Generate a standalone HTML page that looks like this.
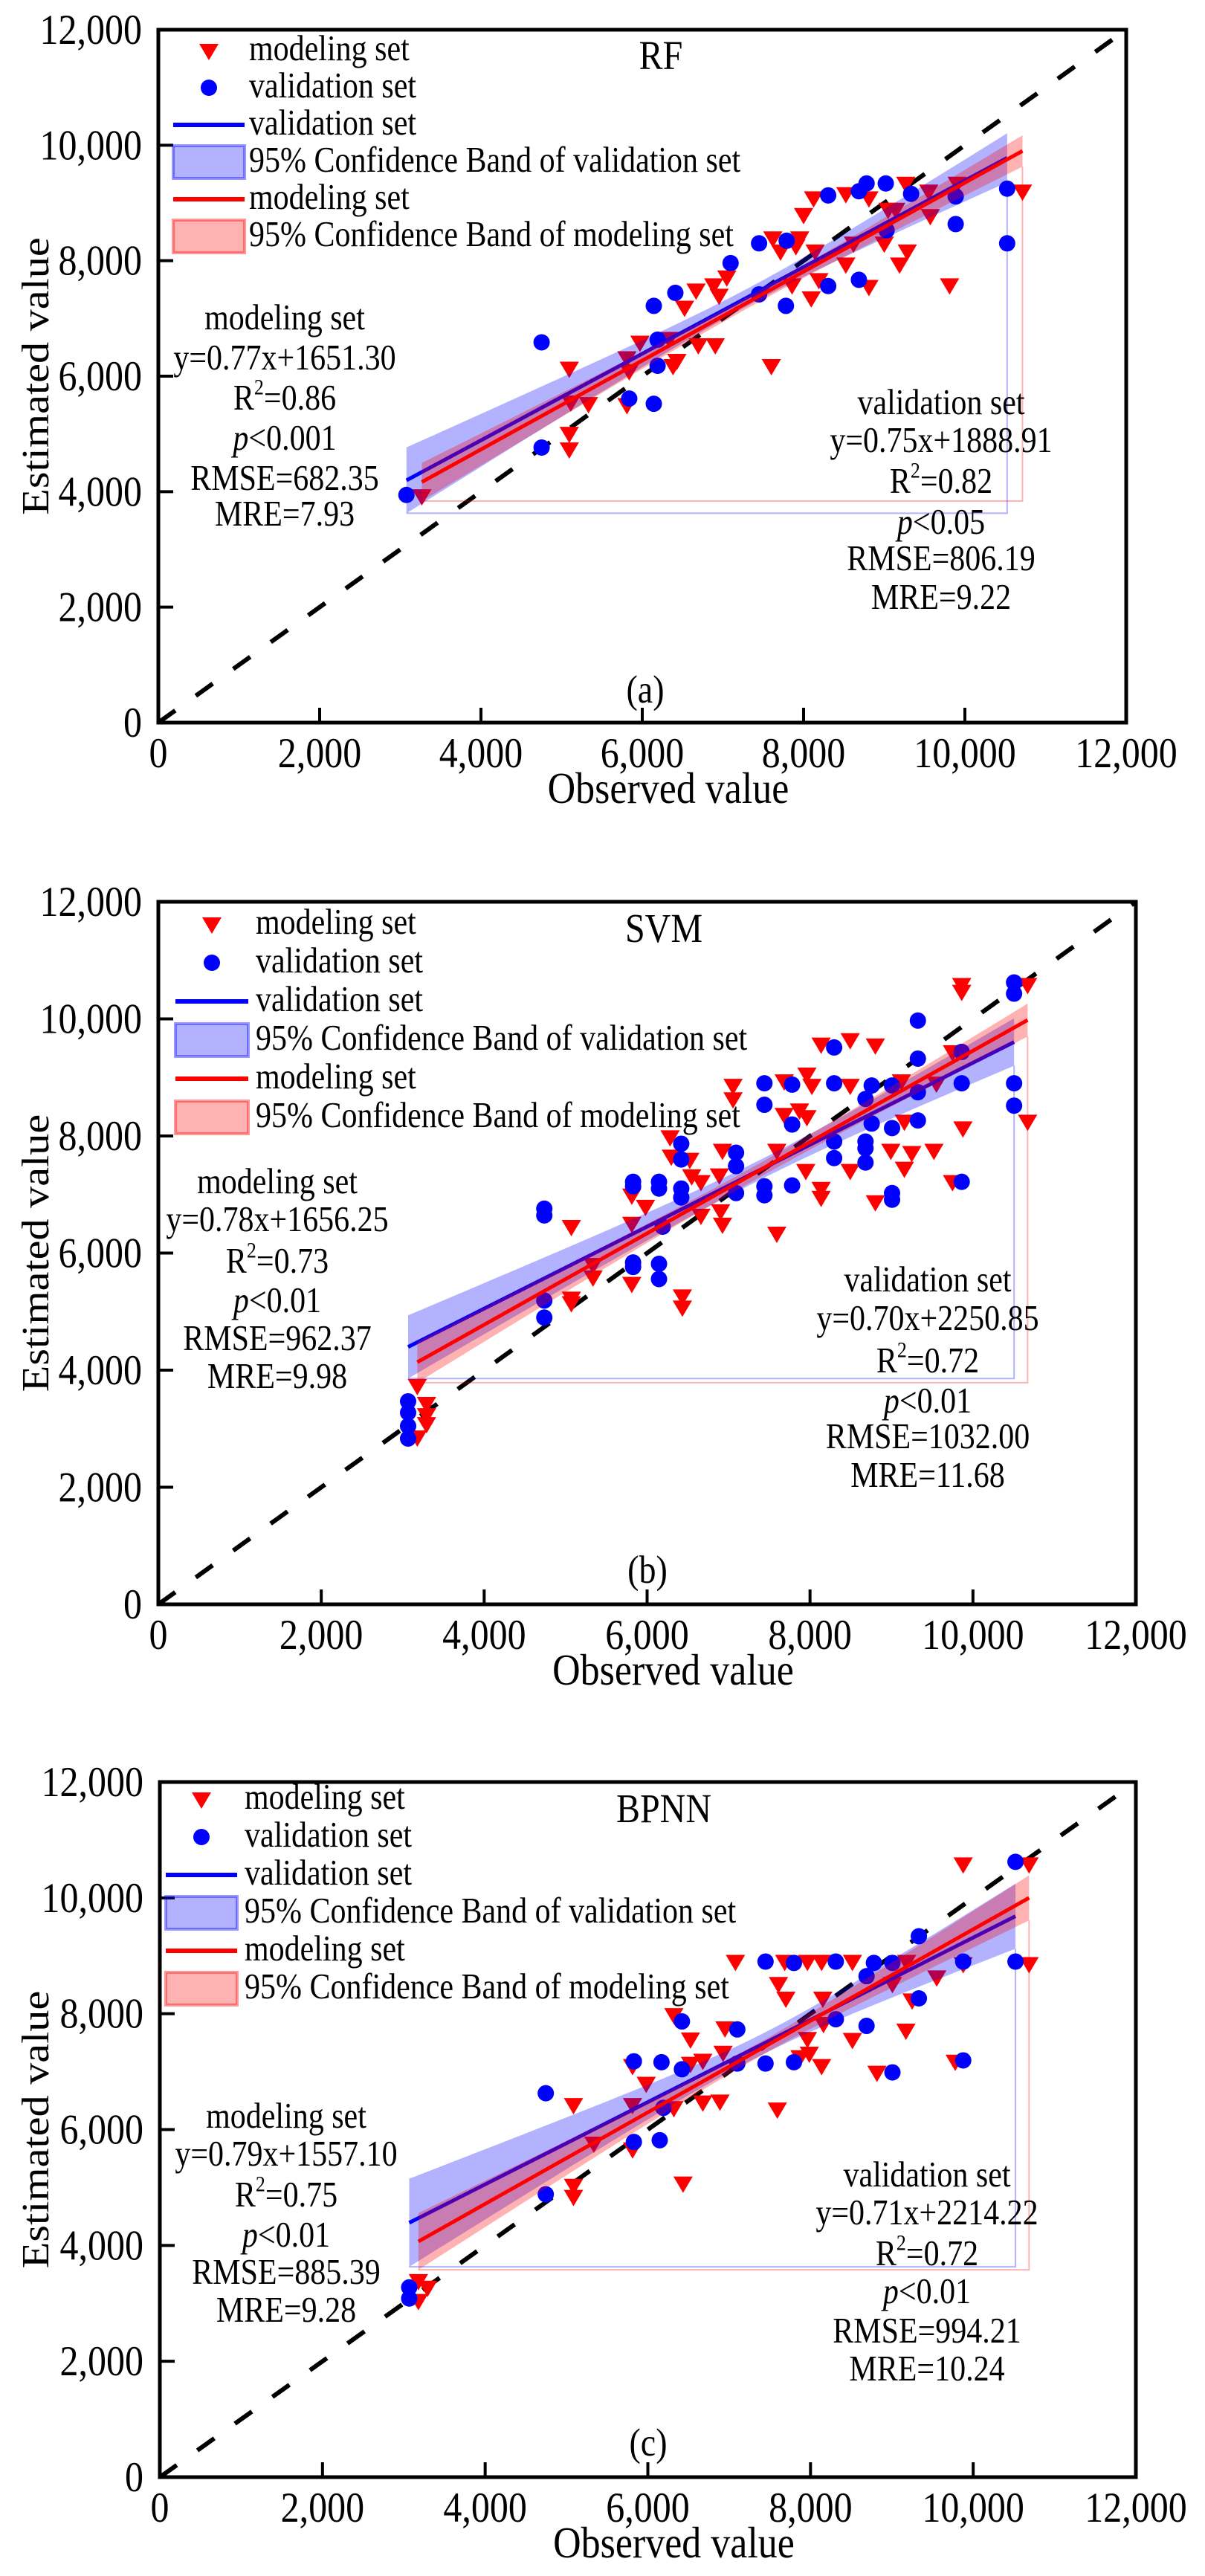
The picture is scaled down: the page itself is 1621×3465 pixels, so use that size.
<!DOCTYPE html>
<html><head><meta charset="utf-8">
<style>
html,body{margin:0;padding:0;background:#fff;}
svg text{font-family:"Liberation Serif","Times New Roman",serif;fill:#000;}
</style></head>
<body>
<svg id="fig" width="1621" height="3460" viewBox="0 0 1621 3460" xmlns="http://www.w3.org/2000/svg"></svg>
<script>
// ---------- data ----------
const xTicks = [0,2000,4000,6000,8000,10000,12000];
const yTicks = [0,2000,4000,6000,8000,10000,12000];
const tickLabels = ["0","2,000","4,000","6,000","8,000","10,000","12,000"];
const panelTitles = ["RF","SVM","BPNN"];
const panelLetters = ["(a)","(b)","(c)"];

const rfValX = [3076,4752,4752,5838,6143,6143,6190,6190,6410,7095,7448,7448,7781,7790,8305,8305,8686,8686,8781,9019,9029,9333,9886,9886,10524,10524];
const rfValY = [3943,6586,4764,5612,7218,5522,6632,6180,7443,7958,8301,7417,7218,8346,9131,7561,7669,9203,9338,9338,8526,9158,8634,9113,9248,8301];
const rfModX = [3267,5095,5095,5095,5114,5333,5810,5810,5838,5971,6333,6381,6429,6524,6667,6695,6886,6905,6952,7048,7600,7619,7714,7857,7905,7952,8000,8095,8124,8143,8190,8524,8524,8619,8810,8810,9000,9048,9143,9190,9267,9286,9552,9571,9810,9905,10714];
const rfModY = [3925,6135,5007,4737,5549,5522,6316,5504,6090,6586,6650,6180,6270,7191,7489,6541,7579,6541,7399,7715,6180,8391,8165,7579,8256,8391,8797,7354,9086,8165,7669,7940,9158,8301,7552,9086,8301,8887,8887,7940,9338,8165,9203,8778,7579,9338,9203];

const svmValX = [3066,3066,3066,3066,4738,4738,4738,4738,5828,5828,5828,5828,6146,6146,6146,6146,6191,6419,6419,6419,6419,7092,7092,7092,7440,7440,7440,7440,7780,7780,7780,8296,8296,8296,8296,8681,8681,8681,8681,8757,8757,9007,9007,9007,9007,9324,9324,9324,9324,9862,9862,9862,10505,10505,10505,10505];
const svmValY = [3467,3275,3046,2832,6758,6643,5189,4898,7217,7140,5839,5763,7217,7102,5816,5556,6451,7867,7599,7102,6949,7714,7485,7025,8900,8533,7140,6987,8877,8196,7155,9512,8900,7905,7622,8632,7905,7790,7546,8862,8212,8862,8135,7025,6911,9971,9321,8747,8265,8900,7217,9436,10622,10431,8900,8518];
const svmModX = [3179,3179,3292,3292,3292,5070,5070,5070,5336,5336,5812,5812,5812,5980,6433,6433,6282,6297,6524,6547,6661,6661,6887,6902,6925,6925,7055,7055,7592,7592,7683,7683,7871,7962,7962,7948,8023,8136,8136,8136,8493,8493,8493,8802,8802,8992,9121,9158,9249,9158,9521,9552,9749,9749,9862,9862,9877,10671,10671];
const svmModY = [3735,2855,3429,3237,3084,6451,5227,5150,5587,5801,6987,6505,5480,6796,5265,5074,7982,7653,7599,7316,7217,6643,7331,6719,6490,7752,8862,8632,6337,7752,8938,8365,8441,9054,8327,7408,8862,7102,6949,9566,9642,8862,7408,9551,6873,7752,8938,8250,7714,7446,7752,8900,9436,7217,10584,10469,8135,10584,8250];

const bpValX = [3066,3066,4745,4745,5828,5828,6146,6168,6191,6419,6419,7100,7100,7447,7447,7796,7796,8311,8311,8689,8689,8779,9007,9007,9332,9332,9877,9877,10520,10520];
const bpValY = [3276,3084,6627,4883,7178,5786,5816,7163,6375,7867,7041,7729,7140,8900,7140,8877,7163,8900,7905,8648,7790,8877,8877,6987,9337,8265,8900,7194,10622,8900];
const bpModX = [3179,3179,3292,5086,5086,5086,5336,5812,5812,5812,5980,6320,6320,6433,6524,6524,6676,6676,6887,6925,6948,7077,7592,7606,7697,7683,7871,7962,7962,7985,8136,8136,8151,8159,8515,8515,8817,9007,9181,9173,9249,9552,9779,9877,9877,10687,10687];
const bpModY = [3390,3046,3276,6428,5035,4844,5763,7102,6428,5663,6796,7982,6375,5074,7561,7140,7194,6474,6490,7331,7752,8900,6352,8518,8265,8900,7255,8900,7569,7316,7102,8900,8265,7829,8900,7553,6987,8518,8900,7714,8235,8632,7178,10584,8862,10584,8862];

const valSlope = [0.75,0.70,0.71];
const valIntercept = [1888.91,2250.85,2214.22];
const modSlope = [0.77,0.78,0.79];
const modIntercept = [1651.30,1656.25,1557.10];

const modStats = [
  ["y=0.77x+1651.30","0.86","<0.001","RMSE=682.35","MRE=7.93"],
  ["y=0.78x+1656.25","0.73","<0.01","RMSE=962.37","MRE=9.98"],
  ["y=0.79x+1557.10","0.75","<0.01","RMSE=885.39","MRE=9.28"]];
const valStats = [
  ["y=0.75x+1888.91","0.82","<0.05","RMSE=806.19","MRE=9.22"],
  ["y=0.70x+2250.85","0.72","<0.01","RMSE=1032.00","MRE=11.68"],
  ["y=0.71x+2214.22","0.72","<0.01","RMSE=994.21","MRE=10.24"]];

// ---------- layout (not data) ----------
const panels = [
  {x0:213,y0:40,w:1302,h:932, leg:{mk:68,tx:122,ty:41,dy:50,ln:[20,116]}, title:[676,53], letter:[655,905],
   mod:{cx:170,ys:[403,457,511,565,619,667]}, val:{cx:1053,ys:[517,568,623,678,727,779]},
   vb:{xm:7400,hmin:150,hend:570}, mb:{xm:7400,hmin:100,hend:330}},
  {x0:213,y0:1213,w:1315,h:945, leg:{mk:72,tx:131,ty:43,dy:52,ln:[23,121]}, title:[680,54], letter:[658,916],
   mod:{cx:160,ys:[392,443,499,552,603,654]}, val:{cx:1035,ys:[524,576,633,687,735,787]},
   vb:{xm:7400,hmin:170,hend:540}, mb:{xm:7400,hmin:120,hend:350}},
  {x0:215,y0:2397,w:1313,h:935, leg:{mk:56,tx:114,ty:36,dy:51,ln:[8,104]}, title:[678,54], letter:[657,906],
   mod:{cx:170,ys:[465,516,571,625,675,726]}, val:{cx:1032,ys:[544,595,650,701,754,805]},
   vb:{xm:7400,hmin:180,hend:760}, mb:{xm:7400,hmin:120,hend:490}}
];
const valX=[rfValX,svmValX,bpValX], valY=[rfValY,svmValY,bpValY];
const modX=[rfModX,svmModX,bpModX], modY=[rfModY,svmModY,bpModY];

const NS="http://www.w3.org/2000/svg";
const svg=document.getElementById('fig');
function mk(tag,attrs,parent){const e=document.createElementNS(NS,tag);for(const k in attrs)e.setAttribute(k,attrs[k]);(parent||svg).appendChild(e);return e;}

panels.forEach((P,i)=>{
  const g=mk('g',{});
  
  
  const sx=v=>P.x0+v/12000*P.w;
  const sy=v=>P.y0+P.h-v/12000*P.h;
  const clipId='clip'+i;
  const cp=mk('clipPath',{id:clipId},g);mk('rect',{x:P.x0,y:P.y0,width:P.w,height:P.h},cp);

  const d=mk('line',{x1:sx(0),y1:sy(0),x2:sx(12000),y2:sy(12000),stroke:'#000','stroke-width':6,'stroke-dasharray':'28 34','clip-path':'url(#'+clipId+')'},g);
  
  

  modX[i].forEach((xv,j)=>{
    const cx=sx(xv),cy=sy(modY[i][j]);
    const t=mk('polygon',{points:`${cx-13},${cy-9} ${cx+13},${cy-9} ${cx},${cy+13}`,fill:'#ff0000'},g);
    
    
  });
  valX[i].forEach((xv,j)=>{
    const c=mk('circle',{cx:sx(xv),cy:sy(valY[i][j]),r:11,fill:'#0000ff'},g);
    
    
  });

  function band(xs,slope,ic,B,color,name){
    const x1=Math.min(...xs),x2=Math.max(...xs);
    const k=(B.hend*B.hend-B.hmin*B.hmin)/Math.pow(Math.max(B.xm-x1,x2-B.xm),2);
    const hw=x=>Math.sqrt(B.hmin*B.hmin+k*(x-B.xm)*(x-B.xm));
    let up=[],lo=[];
    for(let s=0;s<=60;s++){const x=x1+(x2-x1)*s/60;const y=slope*x+ic;up.push(`${sx(x)},${sy(y+hw(x))}`);lo.unshift(`${sx(x)},${sy(y-hw(x))}`);}
    const p=mk('polygon',{points:up.concat(lo).join(' '),fill:color,'fill-opacity':0.3},g);
    
    
    const yb=slope*x1+ic-hw(x1), yt=slope*x2+ic-hw(x2);
    const r=mk('polyline',{points:`${sx(x1)},${sy(yb)} ${sx(x2)},${sy(yb)} ${sx(x2)},${sy(yt)}`,fill:'none',stroke:color,'stroke-opacity':0.3,'stroke-width':2},g);
    
    
    return [x1,x2];
  }
  function fit(ext,slope,ic,color,name){
    const l=mk('line',{x1:sx(ext[0]),y1:sy(slope*ext[0]+ic),x2:sx(ext[1]),y2:sy(slope*ext[1]+ic),stroke:color,'stroke-width':5},g);
    
    
  }
  const ve=band(valX[i],valSlope[i],valIntercept[i],P.vb,'#0000ff','validation');
  fit(ve,valSlope[i],valIntercept[i],'#0000ff','validation');
  const me=band(modX[i],modSlope[i],modIntercept[i],P.mb,'#ff0000','modeling');
  fit(me,modSlope[i],modIntercept[i],'#ff0000','modeling');

  const fr=mk('rect',{x:P.x0,y:P.y0,width:P.w,height:P.h,fill:'none',stroke:'#000','stroke-width':5},g);
  
  

  xTicks.forEach((v,j)=>{
    if(j>0&&j<xTicks.length-1){const t=mk('line',{x1:sx(v),x2:sx(v),y1:P.y0+P.h,y2:P.y0+P.h-20,stroke:'#000','stroke-width':4},g);
      
      }
    const tl=mk('text',{x:sx(v),y:P.y0+P.h+60,'font-size':50,'text-anchor':'middle'},g);tl.textContent=tickLabels[j];
    
    
  });
  yTicks.forEach((v,j)=>{
    if(j>0&&j<yTicks.length-1){const t=mk('line',{x1:P.x0,x2:P.x0+20,y1:sy(v),y2:sy(v),stroke:'#000','stroke-width':4},g);
      
      }
    const tl=mk('text',{x:P.x0-22,y:sy(v)+19,'font-size':50,'text-anchor':'end'},g);tl.textContent=tickLabels[j];
    
    
  });
  const xt=mk('text',{x:P.x0+P.w/2+35,y:P.y0+P.h+108,'font-size':52,'text-anchor':'middle'},g);xt.textContent='Observed value';
  
  
  const yt=mk('text',{x:0,y:0,'font-size':52,'text-anchor':'middle','data-rot':'1',transform:`translate(65,${P.y0+P.h/2}) rotate(-90) scale(1.12,1)`},g);yt.textContent='Estimated value';
  
  

  const ti=mk('text',{x:P.x0+P.title[0],y:P.y0+P.title[1],'font-size':48,'text-anchor':'middle'},g);ti.textContent=panelTitles[i];
  
  
  const le=mk('text',{x:P.x0+P.letter[0],y:P.y0+P.letter[1],'font-size':46,'text-anchor':'middle'},g);le.textContent=panelLetters[i];
  
  

  const L=P.leg;
  const labels=['modeling set','validation set','validation set','95% Confidence Band of validation set','modeling set','95% Confidence Band of modeling set'];
  labels.forEach((lab,r)=>{
    const by=P.y0+L.ty+r*L.dy;
    const cy=by-13;
    const ex=P.x0;
    if(r===0){const m=mk('polygon',{points:`${ex+L.mk-13},${cy-9} ${ex+L.mk+13},${cy-9} ${ex+L.mk},${cy+13}`,fill:'#ff0000'},g);
      
      }
    if(r===1){const m=mk('circle',{cx:ex+L.mk,cy:cy,r:11,fill:'#0000ff'},g);
      
      }
    if(r===2||r===4){const m=mk('line',{x1:ex+L.ln[0],x2:ex+L.ln[1],y1:cy,y2:cy,stroke:r===2?'#0000ff':'#ff0000','stroke-width':6},g);
      
      }
    if(r===3||r===5){const c=r===3?'#0000ff':'#ff0000';const m=mk('rect',{x:ex+L.ln[0],y:cy-22,width:L.ln[1]-L.ln[0],height:44,fill:c,'fill-opacity':0.3,stroke:c,'stroke-opacity':0.4,'stroke-width':4},g);
      
      }
    const t=mk('text',{x:ex+L.tx,y:by,'font-size':42},g);t.textContent=lab;
    
    
  });

  function annot(A,title,st,name){
    const lines=[title,st[0],null,null,st[3],st[4]];
    lines.forEach((ln,r)=>{
      const t=mk('text',{x:P.x0+A.cx,y:P.y0+A.ys[r],'font-size':42,'text-anchor':'middle'},g);
      if(r===2){t.innerHTML='R<tspan font-size="26" dy="-18">2</tspan><tspan dy="18">='+st[1]+'</tspan>';}
      else if(r===3){t.innerHTML='<tspan font-style="italic">p</tspan>'+st[2].replace('<','&lt;');}
      else t.textContent=ln;
      
      
    });
  }
  annot(P.mod,'modeling set',modStats[i],'modeling-stats');
  annot(P.val,'validation set',valStats[i],'validation-stats');
});

// vertical stretch of glyphs (reference text is tall/condensed)
svg.querySelectorAll('text').forEach(t=>{
  if(t.getAttribute('data-rot'))return;
  const y=parseFloat(t.getAttribute('y'));
  t.setAttribute('transform',`translate(0,${y}) scale(1,1.15) translate(0,${-y})`);
});
</script>
</body></html>
